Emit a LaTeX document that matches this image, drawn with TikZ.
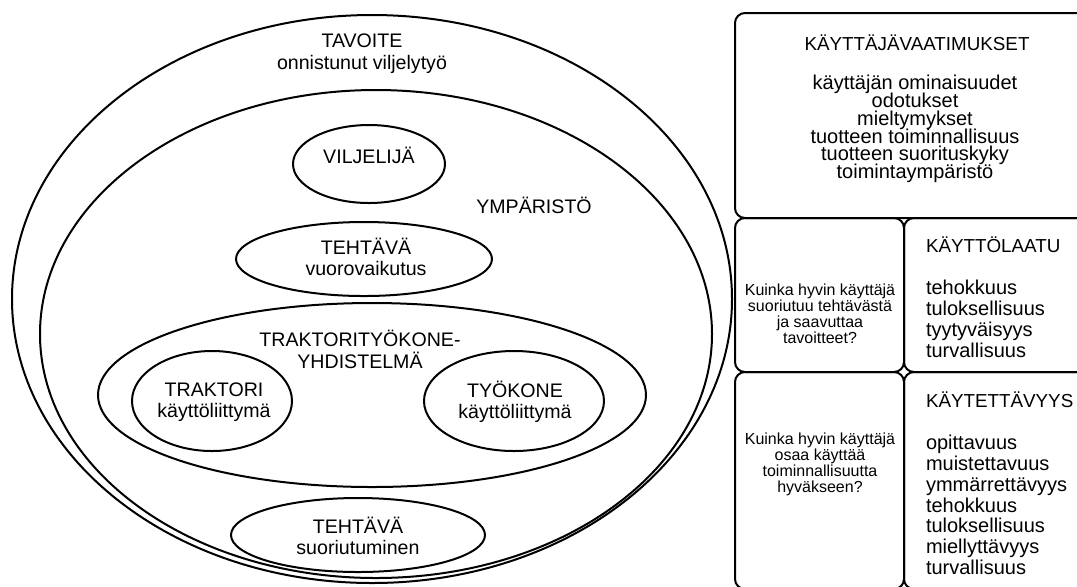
\documentclass[tikz,border=0pt]{standalone}
\usepackage{fontspec}
\setmainfont{Liberation Sans}
\lineskiplimit=-10pt

\begin{document}
\begin{tikzpicture}[x=0.5pt, y=-0.5pt, line width=1pt,
    teksti/.style={inner sep=0pt, align=center, font={\fontsize{9.8}{11}\selectfont}},
    lista/.style={inner sep=0pt, align=center, font={\fontsize{10}{8.85}\selectfont}},
    kysymys/.style={inner sep=0pt, align=center, font={\fontsize{8}{7.95}\selectfont}},
    sarake/.style={inner sep=0pt, align=left, anchor=west, font={\fontsize{10}{10.4}\selectfont}},
    laatikko/.style={rounded corners=5pt}]

    \useasboundingbox (0,0) rectangle (1077,586);
    \clip (0,0) rectangle (1077,586);

    % Ulompi ellipsi (tavoite)
    \draw (372,299) ellipse [x radius=360, y radius=284];
    \node[teksti] (tavoite) at (362,54) {TAVOITE\\onnistunut viljelytyö};

    % Ympäristö
    \draw (376,334) ellipse [x radius=336, y radius=244];
    \node[teksti] (ymparisto) at (534,205) {YMPÄRISTÖ};

    % Viljelijä
    \draw (369,164) ellipse [x radius=76, y radius=39];
    \node[teksti] (viljelija) at (369,155) {VILJELIJÄ};

    % Tehtävä: vuorovaikutus
    \draw (364,259) ellipse [x radius=128, y radius=37];
    \node[teksti, font={\fontsize{9.8}{10.3}\selectfont}] (vuoro) at (366,257) {TEHTÄVÄ\\vuorovaikutus};

    % Traktorityökoneyhdistelmä
    \draw (372,395) ellipse [x radius=274, y radius=92];
    \node[teksti] (yhdistelma) at (360,349) {TRAKTORITYÖKONE-\\YHDISTELMÄ};

    % Käyttöliittymät
    \draw (212,401) ellipse [x radius=80, y radius=50];
    \node[teksti, font={\fontsize{9.8}{10.5}\selectfont}] (traktori) at (214,402) {TRAKTORI\\käyttöliittymä};
    \draw (514,401) ellipse [x radius=90, y radius=50];
    \node[teksti, font={\fontsize{9.8}{10.5}\selectfont}] (tyokone) at (515,402) {TYÖKONE\\käyttöliittymä};

    % Tehtävä: suoriutuminen
    \draw (358,535) ellipse [x radius=127, y radius=37];
    \node[teksti, font={\fontsize{9.8}{10.8}\selectfont}] (suoriutuminen) at (358,536) {TEHTÄVÄ\\suoriutuminen};

    % Oikean puolen laatikot
    \draw[laatikko] (735,13) rectangle (1092,218);
    \draw[laatikko] (735,218) rectangle (904,372);
    \draw[laatikko] (904,218) rectangle (1092,372);
    \draw[laatikko] (735,372) rectangle (904,589);
    \draw[laatikko] (904,372) rectangle (1092,589);

    % Käyttäjävaatimukset
    \node[teksti, font={\fontsize{9.4}{11}\selectfont}] (vaatimukset) at (917,43) {KÄYTTÄJÄVAATIMUKSET};
    \node[lista] (ominaisuudet) at (915,129) {käyttäjän ominaisuudet\\odotukset\\mieltymykset\\tuotteen toiminnallisuus\\tuotteen suorituskyky\\toimintaympäristö};

    % Kysymykset
    \node[kysymys] (kysymys1) at (820,314) {Kuinka hyvin käyttäjä\\suoriutuu tehtävästä\\ja saavuttaa\\tavoitteet?};
    \node[kysymys] (kysymys2) at (820,464) {Kuinka hyvin käyttäjä\\osaa käyttää\\toiminnallisuutta\\hyväkseen?};

    % Käyttölaatu
    \node[sarake, font={\fontsize{9.4}{11}\selectfont}] (kayttolaatu) at (925,245) {KÄYTTÖLAATU};
    \node[sarake] (laatulista) at (925,319) {tehokkuus\\tuloksellisuus\\tyytyväisyys\\turvallisuus};

    % Käytettävyys
    \node[sarake, font={\fontsize{9.4}{11}\selectfont}] (kaytettavyys) at (925,400) {KÄYTETTÄVYYS};
    \node[sarake] (kaytlista) at (925,505) {opittavuus\\muistettavuus\\ymmärrettävyys\\tehokkuus\\tuloksellisuus\\miellyttävyys\\turvallisuus};

\end{tikzpicture}
\end{document}
